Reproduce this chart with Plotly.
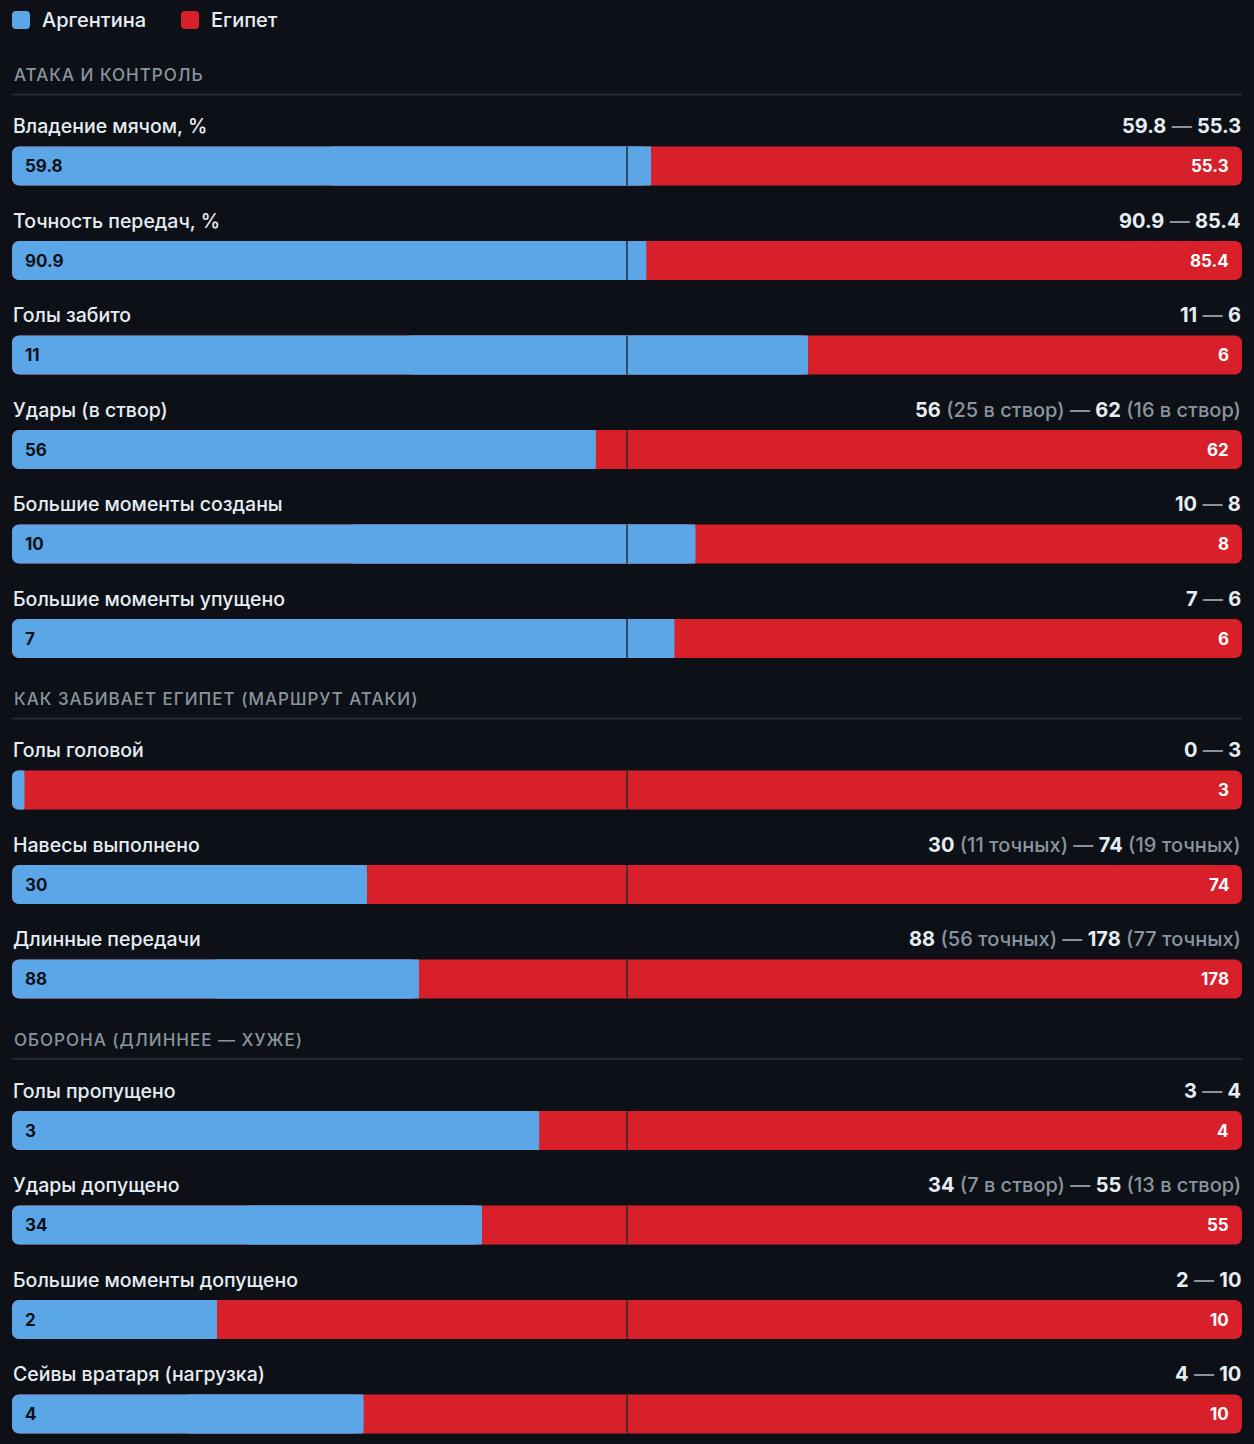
import plotly.graph_objects as go

# ---------------- data ----------------
team_names = ["Аргентина", "Египет"]
section_titles = [
    "АТАКА И КОНТРОЛЬ",
    "КАК ЗАБИВАЕТ ЕГИПЕТ (МАРШРУТ АТАКИ)",
    "ОБОРОНА (ДЛИННЕЕ — ХУЖЕ)",
]
metric_labels = [
    "Владение мячом, %", "Точность передач, %", "Голы забито", "Удары (в створ)",
    "Большие моменты созданы", "Большие моменты упущено",
    "Голы головой", "Навесы выполнено", "Длинные передачи",
    "Голы пропущено", "Удары допущено", "Большие моменты допущено", "Сейвы вратаря (нагрузка)",
]
metric_section = [0, 0, 0, 0, 0, 0, 1, 1, 1, 2, 2, 2, 2]
argentina_values = [59.8, 90.9, 11, 56, 10, 7, 0, 30, 88, 3, 34, 2, 4]
egypt_values = [55.3, 85.4, 6, 62, 8, 6, 3, 74, 178, 4, 55, 10, 10]
argentina_notes = ["", "", "", "25 в створ", "", "", "", "11 точных", "56 точных", "", "7 в створ", "", ""]
egypt_notes = ["", "", "", "16 в створ", "", "", "", "19 точных", "77 точных", "", "13 в створ", "", ""]

# ---------------- style ----------------
W, H = 1254, 1444
BG = "#0d1117"
BLUE = "#5ba6e6"
RED = "#d7202a"
TXT = "#e6edf3"
GRAY = "#8b949e"
DIV = "#2b3038"
FONT = "Inter"
BAR_H = 39
ROW_STEP = 94.5
MIN_FRAC = 0.01
RADIUS = 7


def fmt(v):
    return f"{v:g}"


# ---------------- layout positions (rows) ----------------
section_header_y = {}
bar_y = []
cursor = 75.0  # first section header
for i, sec in enumerate(metric_section):
    if sec not in section_header_y:
        if i > 0:
            cursor = bar_y[-1] + 60.5
        section_header_y[sec] = cursor
        y = cursor + 91
    else:
        y = bar_y[-1] + ROW_STEP
    bar_y.append(y)

fracs = []
for a, b in zip(argentina_values, egypt_values):
    f = a / (a + b) if (a + b) else 0.5
    fracs.append(min(max(f, MIN_FRAC), 1 - MIN_FRAC))

n = len(bar_y)
fig = go.Figure()
# red full bar (floating base -> both ends rounded)
fig.add_trace(go.Bar(
    orientation="h", y=bar_y, x=[1] * n, base=[0] * n,
    width=BAR_H, marker=dict(color=RED, cornerradius=RADIUS, line=dict(width=0)),
    name=team_names[1], showlegend=False, hoverinfo="skip"))
# blue share (floating base -> both ends rounded)
fig.add_trace(go.Bar(
    orientation="h", y=bar_y, x=fracs, base=[0] * n,
    width=BAR_H, marker=dict(color=BLUE, cornerradius=RADIUS, line=dict(width=0)),
    name=team_names[0], showlegend=False, hoverinfo="skip"))
# blue share, square junction end
fig.add_trace(go.Bar(
    orientation="h", y=bar_y, x=[f / 2 for f in fracs], base=[f / 2 for f in fracs],
    width=BAR_H, marker=dict(color=BLUE, cornerradius=0, line=dict(width=0)),
    showlegend=False, hoverinfo="skip"))

shapes = []
annotations = []

# center lines
for y in bar_y:
    shapes.append(dict(type="line", xref="x", yref="y", x0=0.5, x1=0.5,
                       y0=y - BAR_H / 2, y1=y + BAR_H / 2,
                       line=dict(color="#262c35", width=1.5)))


def rounded_square(ox, size=18, r=4):
    return (f"M {ox + r},0 H {ox + size - r} Q {ox + size},0 {ox + size},{r} "
            f"V {size - r} Q {ox + size},{size} {ox + size - r},{size} H {ox + r} "
            f"Q {ox},{size} {ox},{size - r} V {r} Q {ox},0 {ox + r},0 Z")


# legend (rounded squares)
legend_items = [(team_names[0], BLUE, 0), (team_names[1], RED, 169)]
for name, col, px in legend_items:
    shapes.append(dict(type="path", xref="paper", yref="y", xsizemode="pixel", ysizemode="pixel",
                       xanchor=0, yanchor=29, path=rounded_square(px),
                       fillcolor=col, line=dict(width=0)))
    annotations.append(dict(xref="paper", yref="y", x=0, xshift=px + 28, y=20, text=name,
                            showarrow=False, xanchor="left", yanchor="middle",
                            font=dict(family=FONT, size=20, color=TXT, weight=500)))

# section headers
for sec, hy in section_header_y.items():
    annotations.append(dict(xref="paper", yref="y", x=0, y=hy,
                            text=f"<span style='letter-spacing:1px'>{section_titles[sec]}</span>",
                            showarrow=False, xanchor="left", yanchor="middle",
                            font=dict(family=FONT, size=17, color=GRAY, weight=500)))
    shapes.append(dict(type="line", xref="paper", yref="y", x0=0, x1=1, y0=hy + 19.5, y1=hy + 19.5,
                       line=dict(color=DIV, width=1.5)))

# row texts
for i, y in enumerate(bar_y):
    annotations.append(dict(xref="paper", yref="y", x=0, xshift=-1, y=y - 40, text=metric_labels[i],
                            showarrow=False, xanchor="left", yanchor="middle",
                            font=dict(family=FONT, size=19.5, color=TXT, weight=500)))
    a_txt = f"<b>{fmt(argentina_values[i])}</b>"
    if argentina_notes[i]:
        a_txt += f" <span style='color:{GRAY}'>({argentina_notes[i]})</span>"
    b_txt = f"<b>{fmt(egypt_values[i])}</b>"
    if egypt_notes[i]:
        b_txt += f" <span style='color:{GRAY}'>({egypt_notes[i]})</span>"
    annotations.append(dict(xref="paper", yref="y", x=1, xshift=1, y=y - 40,
                            text=f"{a_txt} <span style='color:{GRAY}'>—</span> {b_txt}",
                            showarrow=False, xanchor="right", yanchor="middle",
                            font=dict(family=FONT, size=20, color=TXT, weight=500)))
    if argentina_values[i] > 0:
        annotations.append(dict(xref="x", yref="y", x=0, xshift=11, y=y,
                                text=f"<b>{fmt(argentina_values[i])}</b>",
                                showarrow=False, xanchor="left", yanchor="middle",
                                font=dict(family=FONT, size=17, color=BG)))
    annotations.append(dict(xref="x", yref="y", x=1, xshift=-11, y=y,
                            text=f"<b>{fmt(egypt_values[i])}</b>",
                            showarrow=False, xanchor="right", yanchor="middle",
                            font=dict(family=FONT, size=17, color="#ffffff")))

fig.update_layout(
    width=W, height=H, barmode="overlay",
    paper_bgcolor=BG, plot_bgcolor=BG,
    margin=dict(l=12, r=12, t=0, b=0),
    xaxis=dict(range=[0, 1], visible=False, fixedrange=True),
    yaxis=dict(range=[H, 0], visible=False, fixedrange=True),
    shapes=shapes, annotations=annotations,
    showlegend=False,
)

fig.write_html("out.html",
               post_script="document.body.style.margin='0';document.body.style.background='#0d1117';",
               config={"displayModeBar": False})
